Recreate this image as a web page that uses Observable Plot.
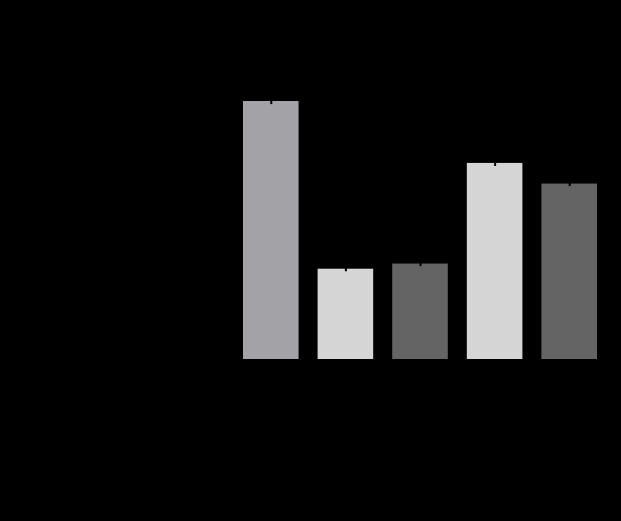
<!DOCTYPE html>
<html>
<head>
<meta charset="utf-8">
<script src="https://cdn.jsdelivr.net/npm/d3@7"></script>
<script src="https://cdn.jsdelivr.net/npm/@observablehq/plot@0.6"></script>
<style>
  html, body { margin: 0; padding: 0; background: #000; }
  #chart svg { display: block; }
</style>
</head>
<body>
<div id="chart"></div>
<script>
const categories = ["A", "B", "C", "D", "E"];
const values = [100, 35, 37, 76, 68];
const errors = [1.2, 1.0, 1.0, 1.2, 1.0];
const colors = ["#a3a2a6", "#d5d5d5", "#646464", "#d5d5d5", "#646464"];

const data = categories.map((c, i) => ({cat: c, value: values[i], err: errors[i], color: colors[i]}));

const chart = Plot.plot({
  width: 621,
  height: 521,
  marginLeft: 243,
  marginRight: 24,
  marginTop: 101,
  marginBottom: 162,
  style: {background: "#000", color: "#000", fontFamily: "DejaVu Sans", fontSize: "12px"},
  x: {domain: categories, paddingInner: 0.255, paddingOuter: 0, round: false, label: null, tickSize: 0},
  y: {domain: [0, 100], label: null, ticks: 5},
  marks: [
    Plot.barY(data, {x: "cat", y: "value", fill: "color"}),
    Plot.ruleX(data, {x: "cat", y1: d => d.value - d.err, y2: d => d.value + d.err, stroke: "#000", strokeWidth: 2}),
    Plot.ruleY([0], {stroke: "#000"})
  ]
});
document.getElementById("chart").appendChild(chart);
</script>
</body>
</html>
